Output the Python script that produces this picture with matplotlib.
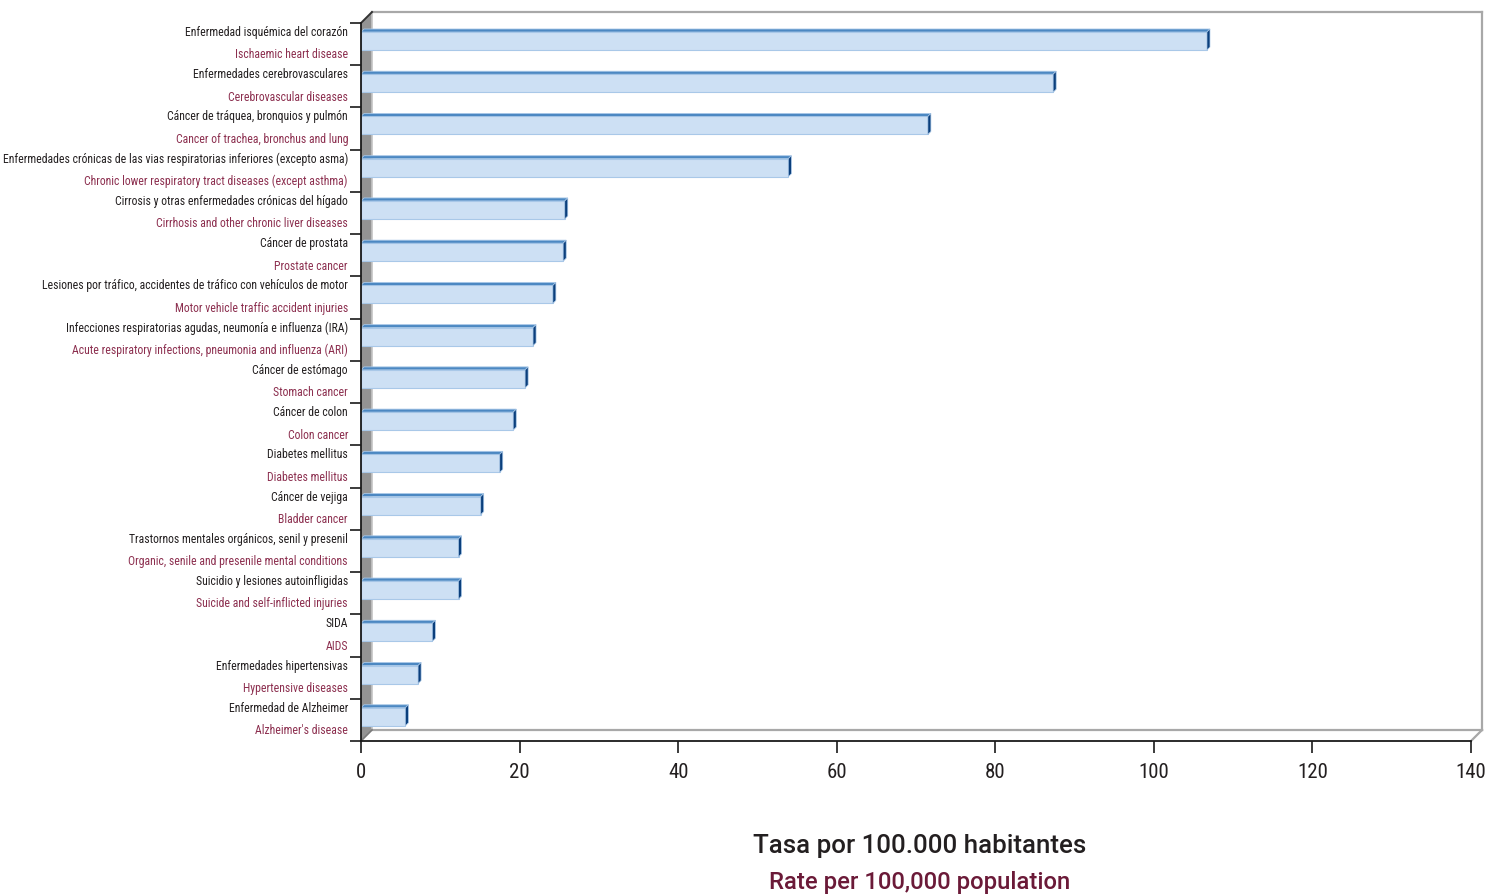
import os
import matplotlib
matplotlib.use("Agg")
import matplotlib.pyplot as plt
from matplotlib import font_manager as fm
from matplotlib.patches import Polygon, Rectangle
from matplotlib.lines import Line2D

# ---- data -------------------------------------------------------------
labels_es = [
    "Enfermedad isquémica del corazón",
    "Enfermedades cerebrovasculares",
    "Cáncer de tráquea, bronquios y pulmón",
    "Enfermedades crónicas de las vias respiratorias inferiores (excepto asma)",
    "Cirrosis y otras enfermedades crónicas del hígado",
    "Cáncer de prostata",
    "Lesiones por tráfico, accidentes de tráfico con vehículos de motor",
    "Infecciones respiratorias agudas, neumonía e influenza (IRA)",
    "Cáncer de estómago",
    "Cáncer de colon",
    "Diabetes mellitus",
    "Cáncer de vejiga",
    "Trastornos mentales orgánicos, senil y presenil",
    "Suicidio y lesiones autoinfligidas",
    "SIDA",
    "Enfermedades hipertensivas",
    "Enfermedad de Alzheimer",
]
labels_en = [
    "Ischaemic heart disease",
    "Cerebrovascular diseases",
    "Cancer of trachea, bronchus and lung",
    "Chronic lower respiratory tract diseases (except asthma)",
    "Cirrhosis and other chronic liver diseases",
    "Prostate cancer",
    "Motor vehicle traffic accident injuries",
    "Acute respiratory infections, pneumonia and influenza (ARI)",
    "Stomach cancer",
    "Colon cancer",
    "Diabetes mellitus",
    "Bladder cancer",
    "Organic, senile and presenile mental conditions",
    "Suicide and self-inflicted injuries",
    "AIDS",
    "Hypertensive diseases",
    "Alzheimer's disease",
]
rates = [106.7, 87.3, 71.5, 53.9, 25.7, 25.5, 24.2, 21.7, 20.7,
         19.2, 17.5, 15.1, 12.3, 12.3, 9.0, 7.2, 5.6]
x_ticks = [0, 20, 40, 60, 80, 100, 120, 140]
title_es = "Tasa por 100.000 habitantes"
title_en = "Rate per 100,000 population"

# ---- fonts -------------------------------------------------------------
def find_condensed():
    bad = ("bold", "italic", "oblique", "light", "thin", "black",
           "medium", "semi", "extra", "ultra", "heavy")
    found = {}
    for e in fm.fontManager.ttflist:
        base = os.path.basename(e.fname).lower().replace("-", "").replace("_", "")
        if ("condensed" in base or "narrow" in base) and not any(b in base for b in bad):
            found.setdefault(base, e.fname)
    for pref in ("roboto", "liberation", "opensans", "notosans", "dejavusans", ""):
        for base, path in sorted(found.items()):
            if base.startswith(pref):
                return path
    return None

cond_path = find_condensed()

def cond_font(size):
    if cond_path:
        return fm.FontProperties(fname=cond_path, size=size)
    return fm.FontProperties(family="DejaVu Sans", size=size)

DARK = "#231f20"
MAROON = "#8c2f4f"
TITLE_MAROON = "#6b1a38"

# ---- figure / axes geometry (pixels) ------------------------------------
W, H = 1493, 894
fig = plt.figure(figsize=(W / 100, H / 100), dpi=100)
x0_px, x1_px = 361, 1471
ytop_px, ybot_px = 23, 741
ax = fig.add_axes([x0_px / W, (H - ybot_px) / H,
                   (x1_px - x0_px) / W, (ybot_px - ytop_px) / H])
n = len(rates)
xmax = 140
ax.set_xlim(0, xmax)
ax.set_ylim(n, 0)

px_x = xmax / (x1_px - x0_px)          # data units per pixel in x
px_y = n / (ybot_px - ytop_px)         # data units per pixel in y

# depth of the box and of the bars
DX, DY = 11 * px_x, -11 * px_y
BDX, BDY = 3 * px_x, -3 * px_y

# ---- box: back wall, left wall, floor ------------------------------------
wall_col = "#a8a8a8"
ax.add_patch(Polygon([(0, 0), (DX, DY), (DX, n + DY), (0, n)], closed=True,
                     facecolor="#939393", edgecolor="none", zorder=1, clip_on=False))
ax.add_line(Line2D([DX, DX], [DY, n + DY], color="#c4c4c4", lw=1.2, zorder=1.1, clip_on=False))
for xs, ys in [([DX, xmax + DX], [DY, DY]),
               ([xmax + DX, xmax + DX], [DY, n + DY]),
               ([DX, xmax + DX], [n + DY, n + DY]),
               ([xmax + DX, xmax], [n + DY, n])]:
    ax.add_line(Line2D(xs, ys, color=wall_col, lw=1.6, zorder=1.2, clip_on=False))
ax.add_line(Line2D([0, DX], [0, DY], color="#333333", lw=1.4, zorder=1.3, clip_on=False))
ax.add_line(Line2D([0, DX], [n, n + DY], color="#7a7a7a", lw=1.2, zorder=1.3, clip_on=False))

# ---- bars ------------------------------------------------------------------
front_col = "#cde0f4"
top_col = "#4c88c2"
side_col = "#0b3f7c"
edge_col = "#a9c8e8"
f_top = 9 * px_y
f_bot = 27 * px_y
for i, v in enumerate(rates):
    yt, yb = i + f_top, i + f_bot
    ax.add_patch(Rectangle((0, yt), v, yb - yt, facecolor=front_col,
                           edgecolor=edge_col, lw=0.8, zorder=3))
    ax.add_patch(Polygon([(0, yt), (v, yt), (v + BDX, yt + BDY), (BDX, yt + BDY)],
                         closed=True, facecolor=top_col, edgecolor=edge_col,
                         lw=0.6, zorder=3.1))
    ax.add_patch(Polygon([(v, yt), (v + BDX, yt + BDY), (v + BDX, yb + BDY), (v, yb)],
                         closed=True, facecolor=side_col, edgecolor=edge_col,
                         lw=0.5, zorder=3.2))

# ---- axes spines and ticks -----------------------------------------------
for s in ("top", "right"):
    ax.spines[s].set_visible(False)
for s in ("left", "bottom"):
    ax.spines[s].set_color("#1a1a1a")
    ax.spines[s].set_linewidth(1.3)
    ax.spines[s].set_zorder(4)
ax.set_xticks(x_ticks)
ax.set_xticklabels([str(t) for t in x_ticks])
ax.set_yticks(range(n + 1))
ax.set_yticklabels([])
ax.tick_params(axis="x", direction="out", length=8.5, width=1.2, color="#1a1a1a",
               pad=7, labelcolor=DARK)
ax.tick_params(axis="y", direction="out", length=8, width=1.2, color="#1a1a1a")
for lab in ax.get_xticklabels():
    lab.set_fontproperties(cond_font(15))
ax.set_facecolor("none")

# ---- category labels (Spanish / English) ------------------------------------
ytrans = ax.get_yaxis_transform()
lx = -13 / (x1_px - x0_px)
texts = []
for i, (es, en) in enumerate(zip(labels_es, labels_en)):
    t1 = ax.text(lx, i + 0.225, es, transform=ytrans, ha="right", va="center",
                 color=DARK, fontproperties=cond_font(12))
    t2 = ax.text(lx, i + 0.755, en, transform=ytrans, ha="right", va="center",
                 color=MAROON, fontproperties=cond_font(12))
    texts += [t1, t2]

# shrink the label size so the longest one fits in the left margin
renderer = fig.canvas.get_renderer()
widest = max(t.get_window_extent(renderer).width for t in texts)
size = min(12.5, 12 * 345 / widest)
for t in texts:
    t.set_fontsize(size)

# ---- axis title -----------------------------------------------------------
fig.text(920 / W, 1 - 846 / H, title_es, ha="center", va="center",
         fontsize=18.6, family=["Roboto", "DejaVu Sans"], weight="medium", color=DARK)
fig.text(920 / W, 1 - 883 / H, title_en, ha="center", va="center",
         fontsize=17.2, family=["Roboto", "DejaVu Sans"], weight="medium", color=TITLE_MAROON)

fig.savefig("out.png", dpi=100)
